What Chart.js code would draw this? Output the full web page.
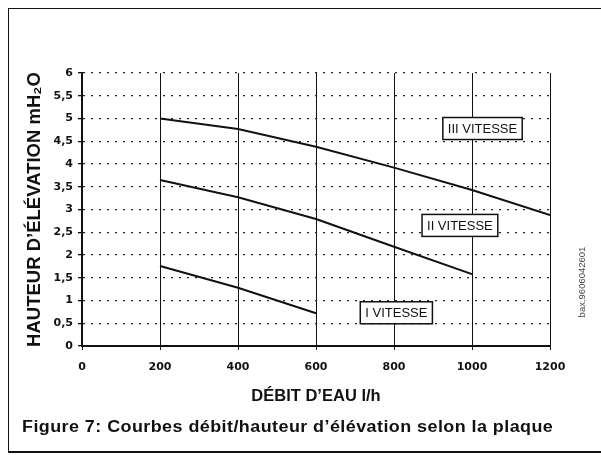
<!DOCTYPE html>
<html>
<head>
<meta charset="utf-8">
<script src="https://cdn.jsdelivr.net/npm/chart.js@4/dist/chart.umd.min.js"></script>
<style>
  html, body { margin: 0; padding: 0; background: #fff; }
  #cadre {
    position: absolute; left: 8px; top: 8px; width: 600px; height: 442px;
    border-top: 1.5px solid #111; border-left: 1.5px solid #111; border-bottom: 2px solid #111;
  }
  #wrap { position: absolute; left: 0; top: 0; width: 601px; height: 455px; }
  #legende {
    position: absolute; left: 22px; top: 418px; white-space: nowrap;
    font: bold 16px 'Liberation Sans', Arial, Helvetica, sans-serif;
    letter-spacing: 0.4px; color: #111;
    transform: scaleX(1.12); transform-origin: left top;
  }
</style>
</head>
<body>
<div id="cadre"></div>
<div id="wrap"><canvas id="graphique" width="601" height="455"></canvas></div>
<div id="legende">Figure 7: Courbes débit/hauteur d’élévation selon la plaque</div>
<script>
const debit = [200, 400, 600, 800, 1000, 1200];
const vitesse3 = [5.0, 4.77, 4.38, 3.92, 3.43, 2.88];
const vitesse2 = [3.65, 3.27, 2.79, 2.18, 1.58];
const vitesse1 = [1.76, 1.28, 0.72];
const etiquettes = ["III VITESSE", "II VITESSE", "I VITESSE"];
const yTickLabels = ["0", "0,5", "1", "1,5", "2", "2,5", "3", "3,5", "4", "4,5", "5", "5,5", "6"];
const xTickLabels = ["0", "200", "400", "600", "800", "1000", "1200"];

const police = "'Liberation Sans', Arial, Helvetica, sans-serif";
const policeTicks = "'DejaVu Sans', sans-serif";

function points(valeurs) {
  return valeurs.map((v, i) => ({ x: debit[i], y: v }));
}

function serie(valeurs) {
  return {
    data: points(valeurs),
    borderColor: "#111",
    borderWidth: 2,
    pointRadius: 0,
    tension: 0,
    fill: false
  };
}

// boîtes "VITESSE" (position en unités du graphique)
const boites = [
  { texte: etiquettes[0], x: 1027, y: 4.78 },
  { texte: etiquettes[1], x: 969, y: 2.65 },
  { texte: etiquettes[2], x: 806, y: 0.73 }
];

const pluginBoites = {
  id: "boites",
  afterDatasetsDraw(chart) {
    const ctx = chart.ctx;
    const sx = chart.scales.x, sy = chart.scales.y;
    ctx.save();
    ctx.font = "13px " + police;
    ctx.textAlign = "center";
    ctx.textBaseline = "middle";
    boites.forEach(b => {
      const cx = sx.getPixelForValue(b.x);
      const cy = sy.getPixelForValue(b.y);
      const w = ctx.measureText(b.texte).width + 10;
      const h = 22;
      ctx.fillStyle = "#fff";
      ctx.fillRect(cx - w / 2, cy - h / 2, w, h);
      ctx.lineWidth = 1.5;
      ctx.strokeStyle = "#111";
      ctx.strokeRect(cx - w / 2, cy - h / 2, w, h);
      ctx.fillStyle = "#111";
      ctx.fillText(b.texte, cx, cy + 1);
    });
    // référence verticale à droite
    ctx.translate(582, 282);
    ctx.rotate(-Math.PI / 2);
    ctx.font = "9.5px " + police;
    ctx.fillStyle = "#444";
    ctx.fillText("bax.9606042601", 0, 0);
    ctx.restore();
  }
};

new Chart(document.getElementById("graphique"), {
  type: "line",
  data: {
    datasets: [serie(vitesse3), serie(vitesse2), serie(vitesse1)]
  },
  options: {
    responsive: false,
    animation: false,
    layout: { padding: { left: 0, top: 73, right: 51, bottom: 36 } },
    plugins: {
      legend: { display: false },
      tooltip: { enabled: false }
    },
    scales: {
      x: {
        type: "linear",
        min: 0,
        max: 1200,
        afterFit: s => { s.height = 73; },
        ticks: {
          stepSize: 200,
          padding: 11,
          color: "#111",
          font: { family: policeTicks, size: 11, weight: "bold" },
          callback: (v, i) => xTickLabels[i]
        },
        grid: { color: "#111", lineWidth: 1, tickLength: 4, tickColor: "#111" },
        border: { color: "#111", width: 2 },
        title: {
          display: true,
          text: "DÉBIT D’EAU l/h",
          color: "#111",
          font: { family: police, size: 16.5, weight: "bold" },
          padding: { top: 0, bottom: 13 }
        }
      },
      y: {
        min: 0,
        max: 6,
        afterFit: s => { s.width = 82; },
        ticks: {
          stepSize: 0.5,
          padding: 5,
          color: "#111",
          font: { family: policeTicks, size: 11, weight: "bold" },
          callback: (v, i) => yTickLabels[i]
        },
        grid: { color: "#222", lineWidth: 1.3, tickLength: 4, tickColor: "#111", tickBorderDash: [] },
        border: { color: "#111", width: 2, dash: [2, 6] },
        title: {
          display: true,
          text: "HAUTEUR D’ÉLÉVATION mH₂O",
          color: "#111",
          font: { family: police, size: 18.5, weight: "bold" },
          padding: { top: 24, bottom: 0 }
        }
      }
    }
  },
  plugins: [pluginBoites]
});
</script>
</body>
</html>
